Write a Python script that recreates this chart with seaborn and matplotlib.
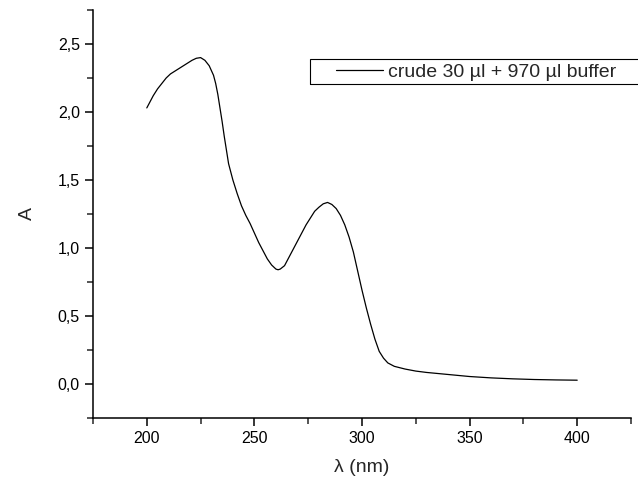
import numpy as np
import pandas as pd
import seaborn as sns
import matplotlib.pyplot as plt
from matplotlib.ticker import MultipleLocator, FuncFormatter
from matplotlib.patches import Rectangle

# absorption spectrum
wavelength = [200, 201, 203, 205, 207, 209, 211, 213, 215, 217, 219, 221, 223, 225,
              227, 229, 231, 232, 233, 234, 235, 236, 237, 238, 240, 242, 244, 246,
              248, 250, 252, 254, 256, 258, 260, 261, 262, 264, 266, 268, 270, 272,
              274, 276, 278, 280, 282, 284, 286, 288, 290, 292, 294, 296, 298, 300,
              302, 304, 306, 308, 310, 312, 315, 320, 325, 330, 340, 350, 360, 370,
              380, 390, 400]
absorbance = [2.03, 2.06, 2.12, 2.17, 2.21, 2.25, 2.28, 2.30, 2.32, 2.34, 2.36, 2.38, 2.395, 2.40,
              2.38, 2.34, 2.27, 2.21, 2.13, 2.03, 1.93, 1.82, 1.72, 1.62, 1.50, 1.40, 1.31, 1.24,
              1.18, 1.11, 1.04, 0.98, 0.92, 0.875, 0.845, 0.84, 0.845, 0.87, 0.93, 0.99, 1.05, 1.11,
              1.17, 1.22, 1.27, 1.30, 1.325, 1.335, 1.32, 1.29, 1.24, 1.17, 1.08, 0.97, 0.83, 0.69,
              0.56, 0.44, 0.33, 0.24, 0.19, 0.155, 0.13, 0.11, 0.095, 0.085, 0.07, 0.055, 0.045, 0.038,
              0.033, 0.03, 0.028]
series_name = "crude 30 µl + 970 µl buffer"

df = pd.DataFrame({"wl": wavelength, "A": absorbance, "s": series_name})

sns.set_style("ticks")
plt.rcParams["font.family"] = ["Liberation Sans", "DejaVu Sans"]

fig = plt.figure(figsize=(6.38, 4.82), dpi=100)
ax = fig.add_axes([93/638, 1 - 418/482, (631 - 93)/638, (418 - 10)/482])

sns.lineplot(data=df, x="wl", y="A", hue="s", palette=["black"], linewidth=0.9,
             ax=ax, legend=False)

ax.set_xlim(175, 425)
ax.set_ylim(-0.25, 2.75)
ax.xaxis.set_major_locator(MultipleLocator(50))
ax.xaxis.set_minor_locator(MultipleLocator(25))
ax.yaxis.set_major_locator(MultipleLocator(0.5))
ax.yaxis.set_minor_locator(MultipleLocator(0.25))
ax.yaxis.set_major_formatter(FuncFormatter(lambda v, p: f"{v:.1f}".replace(".", ",")))
ax.tick_params(which="major", direction="out", length=6, width=1.1, labelsize=11.5, colors="black")
ax.tick_params(which="minor", direction="out", length=4, width=1.1)
sns.despine(ax=ax)
for s in ["left", "bottom"]:
    ax.spines[s].set_linewidth(1.1)
    ax.spines[s].set_color("black")

ax.set_xlabel("λ (nm)", fontsize=14, labelpad=9)
ax.set_ylabel("A", fontsize=14, labelpad=16)

# legend box like the original (frame runs off the right edge)
fig.patches.append(Rectangle((310/638, 1 - 84/482), 340/638, 25/482,
                             transform=fig.transFigure, fill=False,
                             edgecolor="black", linewidth=0.8))
ax.plot([], [], color="black", linewidth=0.9, label=series_name)
ax.legend(loc="center left", bbox_to_anchor=(336/638, 1 - 72/482),
          bbox_transform=fig.transFigure, frameon=False, fontsize=14,
          handlelength=2.4, handletextpad=0.3, borderpad=0, borderaxespad=0)

fig.savefig("out.png", dpi=100)
